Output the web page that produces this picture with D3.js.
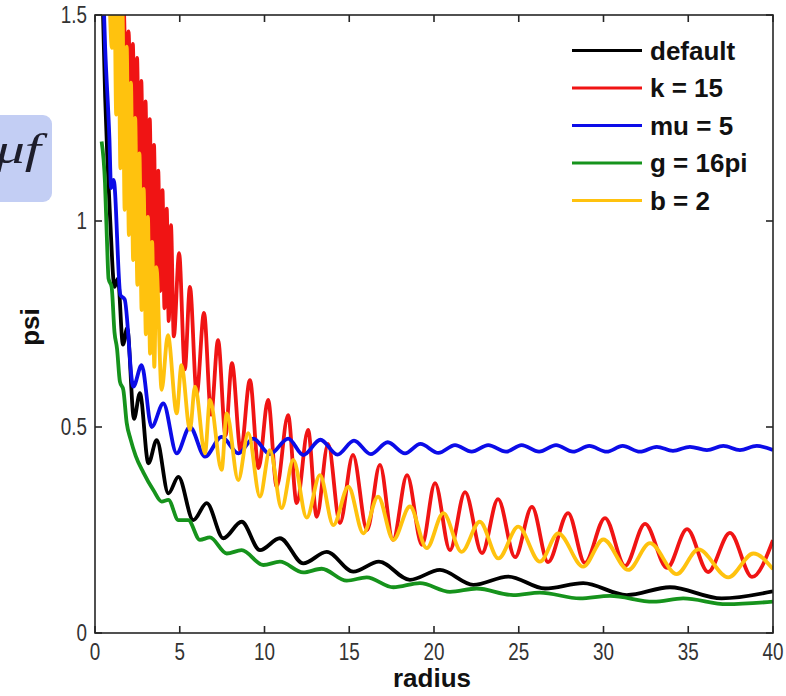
<!DOCTYPE html>
<html>
<head>
<meta charset="utf-8">
<script src="https://cdn.jsdelivr.net/npm/d3@7"></script>
<style>
  body { margin: 0; background: #fff; }
  svg { display: block; }
</style>
</head>
<body>
<div id="chart"></div>
<script>
// Series: [radius, psi] at peaks and troughs
const seriesNames = ['default', 'k = 15', 'mu = 5', 'g = 16pi', 'b = 2'];

const defaultPts = [
  [0.35, 1.7], [0.6, 1.3], [0.9, 1.0], [1.15, 0.84], [1.35, 0.86], [1.65, 0.7], [1.9, 0.74],
  [2.3, 0.52], [2.65, 0.582], [3.15, 0.412], [3.64, 0.468], [4.33, 0.339], [4.92, 0.379],
  [5.8, 0.274], [6.59, 0.315], [7.57, 0.23], [8.65, 0.27], [9.73, 0.201], [10.91, 0.23],
  [12.29, 0.169], [13.67, 0.197], [15.24, 0.149], [16.75, 0.173], [18.58, 0.129], [20.35, 0.153],
  [22.32, 0.117], [24.38, 0.137], [26.55, 0.108], [28.8, 0.121], [31.37, 0.092], [33.92, 0.111],
  [36.97, 0.084], [40, 0.101],
];

const k15Pts = [
  [1.6, 1.75], [1.85, 1.37], [1.98, 1.46], [2.1, 1.275], [2.23, 1.43], [2.35, 1.19], [2.48, 1.396],
  [2.6, 1.125], [2.73, 1.34], [2.85, 1.047], [2.98, 1.29], [3.1, 0.98], [3.23, 1.247], [3.35, 0.93],
  [3.48, 1.185], [3.6, 0.88], [3.73, 1.122], [3.85, 0.83], [3.98, 1.075], [4.1, 0.788], [4.23, 1.03],
  [4.35, 0.757], [4.48, 0.99], [4.65, 0.72], [4.96, 0.922], [5.3, 0.64], [5.6, 0.84], [6.0, 0.58],
  [6.43, 0.777], [6.85, 0.53], [7.26, 0.711], [7.7, 0.48], [8.08, 0.655], [8.6, 0.44], [9.14, 0.614],
  [9.65, 0.4], [10.21, 0.566], [10.72, 0.355], [11.39, 0.529], [11.9, 0.315], [12.57, 0.493],
  [13.08, 0.282], [13.75, 0.459], [14.45, 0.267], [15.22, 0.432], [16.05, 0.25], [16.81, 0.408],
  [17.58, 0.226], [18.41, 0.383], [19.29, 0.214], [20.06, 0.364], [20.94, 0.201], [21.83, 0.342],
  [22.83, 0.194], [23.78, 0.325], [24.78, 0.184], [25.78, 0.306], [26.73, 0.172], [27.91, 0.291],
  [28.9, 0.17], [30.09, 0.279], [31.27, 0.163], [32.45, 0.265], [33.75, 0.158], [34.93, 0.252],
  [36.17, 0.148], [37.46, 0.243], [38.76, 0.136], [40, 0.225],
];

const mu5Pts = [
  [0.3, 1.8], [0.6, 1.42], [0.85, 1.2], [0.95, 1.08], [1.1, 1.1], [1.5, 0.82], [1.75, 0.81],
  [2.26, 0.598], [2.75, 0.65], [3.34, 0.5], [4.03, 0.557], [4.82, 0.436], [5.6, 0.5], [6.49, 0.428],
  [7.47, 0.476], [8.46, 0.436], [9.34, 0.472], [10.32, 0.434], [11.4, 0.472], [12.29, 0.432],
  [13.3, 0.469], [14.3, 0.433], [15.28, 0.467], [16.27, 0.434], [17.27, 0.463], [18.29, 0.436],
  [19.2, 0.459], [20.26, 0.437], [21.24, 0.456], [22.22, 0.44], [23.2, 0.456], [24.25, 0.44],
  [25.17, 0.456], [26.2, 0.44], [27.2, 0.456], [28.2, 0.44], [29.16, 0.454], [30.19, 0.44],
  [31.13, 0.454], [32.15, 0.44], [33.14, 0.452], [34.1, 0.442], [35.1, 0.452], [36.1, 0.444],
  [37.07, 0.454], [38.05, 0.444], [39.04, 0.454], [40, 0.444],
];

const g16piPts = [
  [0.39, 1.193], [0.59, 1.092], [0.7, 0.96], [0.8, 0.86], [0.98, 0.84], [1.15, 0.73], [1.3, 0.69],
  [1.47, 0.61], [1.67, 0.59], [1.87, 0.51], [2.1, 0.47], [2.4, 0.43], [2.85, 0.39], [3.44, 0.347],
  [3.93, 0.319], [4.33, 0.323], [4.92, 0.274], [5.5, 0.274], [6.19, 0.226], [6.78, 0.232],
  [7.77, 0.193], [8.65, 0.201], [9.93, 0.165], [10.91, 0.173], [12.29, 0.147], [13.37, 0.156],
  [14.85, 0.127], [16.03, 0.135], [17.6, 0.111], [19.17, 0.121], [20.94, 0.1], [22.52, 0.108],
  [24.68, 0.092], [26.25, 0.098], [28.61, 0.084], [30.38, 0.09], [32.94, 0.076], [34.7, 0.084],
  [37.27, 0.07], [40, 0.076],
];

const b2Pts = [
  [0.75, 1.75], [1.0, 1.42], [1.12, 1.68], [1.25, 1.258], [1.37, 1.58], [1.5, 1.128], [1.62, 1.51],
  [1.75, 1.027], [1.87, 1.423], [2.0, 0.966], [2.12, 1.336], [2.25, 0.905], [2.37, 1.25],
  [2.5, 0.845], [2.62, 1.164], [2.75, 0.784], [2.87, 1.078], [3.0, 0.725], [3.12, 1.01],
  [3.25, 0.678], [3.37, 0.949], [3.5, 0.646], [3.62, 0.888], [3.93, 0.59], [4.3, 0.723],
  [4.82, 0.533], [5.1, 0.65], [5.6, 0.493], [5.9, 0.598], [6.49, 0.436], [6.78, 0.566],
  [7.47, 0.396], [7.77, 0.533], [8.45, 0.371], [9.04, 0.485], [9.73, 0.331], [10.32, 0.444],
  [11.01, 0.303], [11.7, 0.42], [12.49, 0.28], [13.27, 0.383], [14.06, 0.262], [14.95, 0.355],
  [15.83, 0.242], [16.7, 0.331], [17.6, 0.226], [18.58, 0.307], [19.57, 0.206], [20.55, 0.291],
  [21.63, 0.197], [22.7, 0.27], [23.8, 0.181], [24.97, 0.258], [26.25, 0.173], [27.33, 0.242],
  [28.8, 0.161], [29.99, 0.227], [31.46, 0.153], [32.74, 0.218], [34.32, 0.143], [35.6, 0.203],
  [37.36, 0.135], [38.84, 0.193], [40, 0.155],
];

const xTicks = [0, 5, 10, 15, 20, 25, 30, 35, 40];
const yTicks = [0, 0.5, 1, 1.5];
const yTickLabels = ['0', '0.5', '1', '1.5'];

const allSeries = [defaultPts, k15Pts, mu5Pts, g16piPts, b2Pts];
const colors = ['#000000', '#f01414', '#0c0ce8', '#16931c', '#ffc20e'];

const width = 786;
const height = 696;
const plot = { left: 95, right: 773, top: 15, bottom: 633 };

const svg = d3.select('#chart').append('svg')
  .attr('width', width)
  .attr('height', height);

const x = d3.scaleLinear().domain([0, 40]).range([plot.left, plot.right]);
const y = d3.scaleLinear().domain([0, 1.5]).range([plot.bottom, plot.top]);

// Slide overlay box at the left edge
svg.append('rect')
  .attr('x', -12).attr('y', 115)
  .attr('width', 64).attr('height', 87)
  .attr('rx', 9)
  .attr('fill', '#c3cef4');
svg.append('text')
  .attr('transform', 'translate(41,163) scale(1.35,1)')
  .attr('text-anchor', 'end')
  .attr('font-family', '"Liberation Serif", "DejaVu Serif", serif')
  .attr('font-style', 'italic')
  .attr('font-size', 43)
  .attr('fill', '#1d1d2b')
  .text('\u03bcf');

svg.append('clipPath').attr('id', 'plotclip')
  .append('rect')
  .attr('x', plot.left).attr('y', plot.top)
  .attr('width', plot.right - plot.left)
  .attr('height', plot.bottom - plot.top);

// Curves
const line = d3.line()
  .x(d => x(d[0]))
  .y(d => y(d[1]))
  .curve(d3.curveMonotoneX);

svg.append('g')
  .attr('clip-path', 'url(#plotclip)')
  .selectAll('path')
  .data(allSeries)
  .join('path')
  .attr('d', line)
  .attr('fill', 'none')
  .attr('stroke', (d, i) => colors[i])
  .attr('stroke-width', 3.8)
  .attr('stroke-linejoin', 'round');

// Axes box with inward ticks on all sides
const axisColor = '#262626';
const tickLen = 7;
const axes = svg.append('g');

axes.append('rect')
  .attr('x', plot.left).attr('y', plot.top)
  .attr('width', plot.right - plot.left)
  .attr('height', plot.bottom - plot.top)
  .attr('fill', 'none')
  .attr('stroke', axisColor)
  .attr('stroke-width', 1.6);

xTicks.forEach((t) => {
  axes.append('line')
    .attr('x1', x(t)).attr('x2', x(t))
    .attr('y1', plot.bottom).attr('y2', plot.bottom - tickLen)
    .attr('stroke', axisColor).attr('stroke-width', 1.6);
  axes.append('line')
    .attr('x1', x(t)).attr('x2', x(t))
    .attr('y1', plot.top).attr('y2', plot.top + tickLen)
    .attr('stroke', axisColor).attr('stroke-width', 1.6);
  axes.append('text')
    .attr('transform', `translate(${x(t)},${plot.bottom + 27}) scale(0.82,1)`)
    .attr('text-anchor', 'middle')
    .attr('font-family', '"Liberation Sans", Arial, sans-serif')
    .attr('font-size', 23)
    .attr('fill', '#333')
    .text(t);
});

yTicks.forEach((t, i) => {
  axes.append('line')
    .attr('x1', plot.left).attr('x2', plot.left + tickLen)
    .attr('y1', y(t)).attr('y2', y(t))
    .attr('stroke', axisColor).attr('stroke-width', 1.6);
  axes.append('line')
    .attr('x1', plot.right).attr('x2', plot.right - tickLen)
    .attr('y1', y(t)).attr('y2', y(t))
    .attr('stroke', axisColor).attr('stroke-width', 1.6);
  axes.append('text')
    .attr('transform', `translate(${plot.left - 8},${y(t) + 8}) scale(0.82,1)`)
    .attr('text-anchor', 'end')
    .attr('font-family', '"Liberation Sans", Arial, sans-serif')
    .attr('font-size', 23)
    .attr('fill', '#333')
    .text(yTickLabels[i]);
});

// Axis titles
svg.append('text')
  .attr('x', 432).attr('y', 687)
  .attr('text-anchor', 'middle')
  .attr('font-family', '"Liberation Sans", Arial, sans-serif')
  .attr('font-weight', 'bold')
  .attr('font-size', 26)
  .attr('fill', '#111')
  .text('radius');

svg.append('text')
  .attr('transform', 'translate(39,327) rotate(-90)')
  .attr('text-anchor', 'middle')
  .attr('font-family', '"Liberation Sans", Arial, sans-serif')
  .attr('font-weight', 'bold')
  .attr('font-size', 26)
  .attr('fill', '#111')
  .text('psi');

// Legend
const legend = svg.append('g');
seriesNames.forEach((name, i) => {
  const ly = 50.5 + i * 37.5;
  legend.append('line')
    .attr('x1', 572).attr('x2', 642)
    .attr('y1', ly).attr('y2', ly)
    .attr('stroke', colors[i])
    .attr('stroke-width', 3.2);
  legend.append('text')
    .attr('x', 650).attr('y', ly + 9)
    .attr('font-family', '"Liberation Sans", Arial, sans-serif')
    .attr('font-weight', 'bold')
    .attr('font-size', 26)
    .attr('fill', '#111')
    .text(name);
});
</script>
</body>
</html>
